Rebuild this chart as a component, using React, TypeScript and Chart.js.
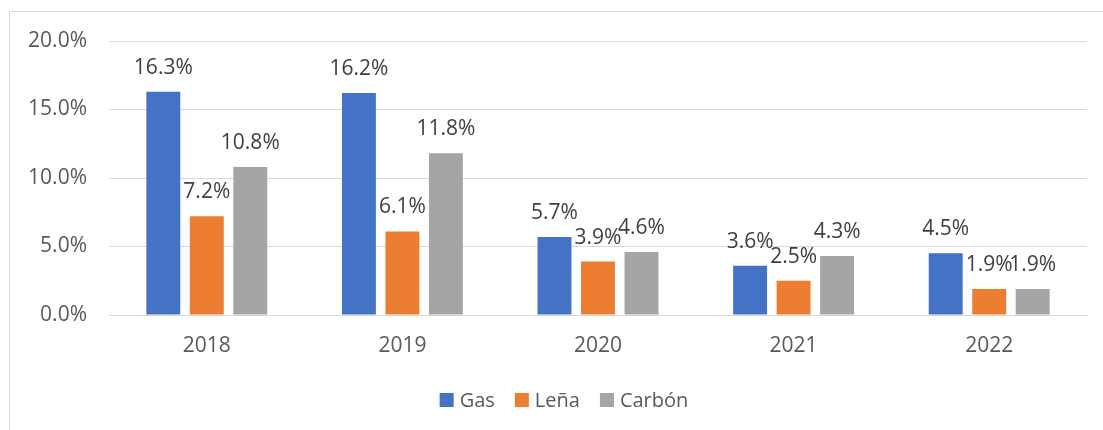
import React, { useEffect, useRef } from "react";
import { Chart, registerables } from "chart.js";

Chart.register(...registerables);

const categories = ["2018", "2019", "2020", "2021", "2022"];
const gasValues = [16.3, 16.2, 5.7, 3.6, 4.5];
const lenaValues = [7.2, 6.1, 3.9, 2.5, 1.9];
const carbonValues = [10.8, 11.8, 4.6, 4.3, 1.9];
const seriesNames = ["Gas", "Leña", "Carbón"];
const seriesColors = ["#4472C4", "#ED7D31", "#A5A5A5"];
const yTicks = [0, 5, 10, 15, 20];

const FONT = "'Open Sans', 'Liberation Sans', sans-serif";

const dataLabelPlugin = {
  id: "dataLabels",
  afterDatasetsDraw(chart: any) {
    const ctx = chart.ctx;
    ctx.save();
    ctx.font = `21px ${FONT}`;
    ctx.fillStyle = "#404040";
    ctx.textAlign = "center";
    ctx.textBaseline = "alphabetic";
    chart.data.datasets.forEach((ds: any, i: number) => {
      const meta = chart.getDatasetMeta(i);
      meta.data.forEach((el: any, j: number) => {
        const v = ds.data[j];
        ctx.fillText(v.toFixed(1) + "%", el.x, el.y - 18);
      });
    });
    ctx.restore();
  },
};

const legendPlugin = {
  id: "customLegend",
  afterDraw(chart: any) {
    const ctx = chart.ctx;
    ctx.save();
    ctx.font = `20px ${FONT}`;
    const box = 14;
    const gap = 6;
    const itemGap = 20;
    const items = chart.data.datasets.map((ds: any) => ({
      label: ds.label,
      color: ds.backgroundColor,
      w: ctx.measureText(ds.label).width,
    }));
    const total = items.reduce((a: number, it: any) => a + box + gap + it.w, 0) + itemGap * (items.length - 1);
    const centerX = 564;
    const cy = 400;
    let x = centerX - total / 2;
    ctx.textBaseline = "middle";
    ctx.textAlign = "left";
    items.forEach((it: any) => {
      ctx.fillStyle = it.color;
      ctx.fillRect(x, cy - box / 2, box, box);
      x += box + gap;
      ctx.fillStyle = "#595959";
      ctx.fillText(it.label, x, cy + 1);
      x += it.w + itemGap;
    });
    ctx.restore();
  },
};

export default function App() {
  const ref = useRef<HTMLCanvasElement>(null);
  useEffect(() => {
    if (!ref.current) return;
    const chart = new Chart(ref.current, {
      type: "bar",
      data: {
        labels: categories,
        datasets: [
          { label: seriesNames[0], data: gasValues, backgroundColor: seriesColors[0] },
          { label: seriesNames[1], data: lenaValues, backgroundColor: seriesColors[1] },
          { label: seriesNames[2], data: carbonValues, backgroundColor: seriesColors[2] },
        ],
      },
      options: {
        responsive: false,
        animation: false,
        layout: { padding: { left: 0, right: 16, top: 41, bottom: 63 } },
        datasets: { bar: { categoryPercentage: 0.667, barPercentage: 0.78 } },
        scales: {
          x: {
            grid: { display: false },
            border: { color: "#D9D9D9", width: 1 },
            ticks: { color: "#595959", font: { size: 21, family: FONT }, padding: 10 },
            afterFit: (s: any) => { s.height = 52; },
          },
          y: {
            min: 0,
            max: 20,
            afterBuildTicks: (s: any) => { s.ticks = yTicks.map((v) => ({ value: v })); },
            grid: { color: "#D9D9D9", lineWidth: 1, drawTicks: false },
            border: { display: false },
            ticks: {
              color: "#595959",
              font: { size: 21, family: FONT },
              padding: 22,
              callback: (v: any) => Number(v).toFixed(1) + "%",
            },
            afterFit: (s: any) => { s.width = 109; },
          },
        },
        plugins: {
          legend: { display: false },
          tooltip: { enabled: false },
        },
      },
      plugins: [dataLabelPlugin, legendPlugin],
    } as any);
    return () => chart.destroy();
  }, []);
  return (
    <div style={{ position: "absolute", left: 0, top: 0, width: 1103, height: 430, background: "#fff" }}>
      <div
        style={{
          position: "absolute",
          left: 9,
          top: 11,
          right: 0,
          bottom: 0,
          borderTop: "1px solid #D9D9D9",
          borderLeft: "1px solid #D9D9D9",
        }}
      />
      <canvas ref={ref} width={1103} height={430} style={{ position: "absolute", left: 0, top: 0, width: 1103, height: 430 }} />
    </div>
  );
}
